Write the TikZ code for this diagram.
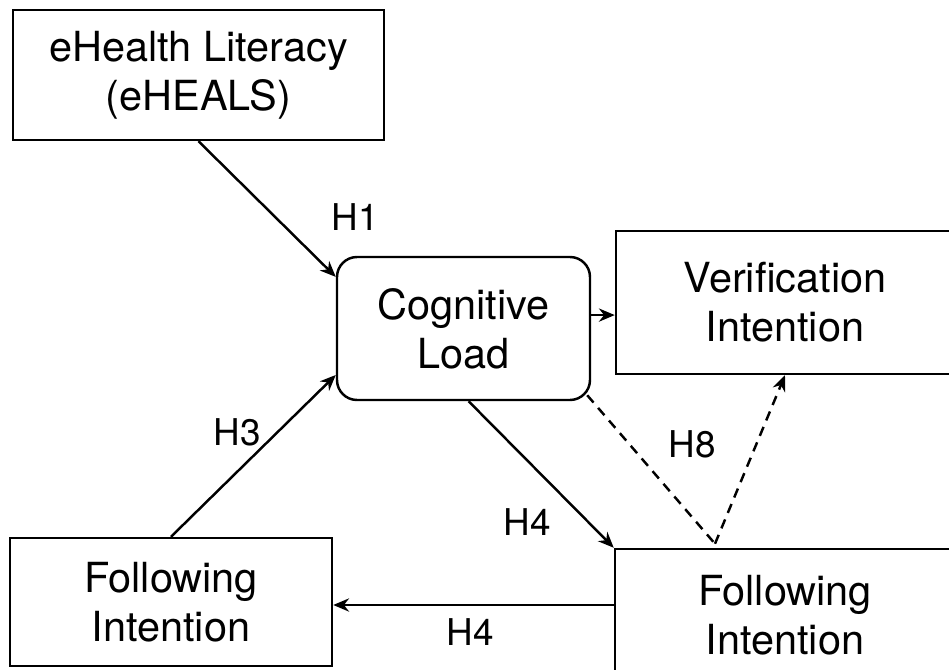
\documentclass[tikz,border=0pt]{standalone}
\usepackage{fontspec}
\setmainfont{TeX Gyre Heros}
\usetikzlibrary{arrows.meta,positioning,calc}

\begin{document}
\begin{tikzpicture}[>={Stealth[length=9pt,width=7.5pt]},line width=1.4pt,
  box/.style={draw,align=center,inner sep=0pt,font=\fontsize{23.6}{28}\selectfont},
  hlabel/.style={font=\fontsize{21}{24}\selectfont}]
\useasboundingbox (0,0) rectangle (18.98,13.38);
% constructs
\node[box,minimum width=7.42cm,minimum height=2.60cm] (ehl) at (3.97,11.88) {eHealth Literacy\\(eHEALS)};
\node[box,rounded corners=0.4cm,minimum width=5.06cm,minimum height=2.86cm] (cog) at (9.27,6.81) {Cognitive\\Load};
\node[box,minimum width=6.76cm,minimum height=2.86cm] (ver) at (15.70,7.33) {Verification\\Intention};
\node[box,minimum width=6.44cm,minimum height=2.56cm] (flw) at (3.42,1.34) {Following\\Intention};
\node[box,minimum width=6.80cm,minimum height=2.64cm] (frt) at (15.70,1.08) {Following\\Intention};
% paths
\draw[->] (ehl.south) -- (cog.158);
\draw[->] (flw.north) -- (cog.200);
\draw[->] (cog.6) -- (cog.6 -| ver.west);
\draw[->] (cog.-86) -- (frt.north west);
\draw[->] ([yshift=0.2cm]frt.west) -- ([yshift=0.2cm]frt.west -| flw.east);
\coordinate (med) at ($(frt.north)+(-1.40,0.08)$);
\draw[dash pattern=on 5.5pt off 4pt] ($(cog.south east)+(-0.08,0.12)$) -- (med);
\draw[->,dash pattern=on 5.5pt off 4pt] (med) -- (ver.south);
% hypotheses
\node[hlabel] (h1) at (7.10,9.04) {H1};
\node[hlabel] (h3) at (4.74,4.74) {H3};
\node[hlabel] (h4a) at (10.54,2.94) {H4};
\node[hlabel] (h8) at (13.84,4.50) {H8};
\node[hlabel] (h4b) at (9.40,0.74) {H4};
\end{tikzpicture}
\end{document}
